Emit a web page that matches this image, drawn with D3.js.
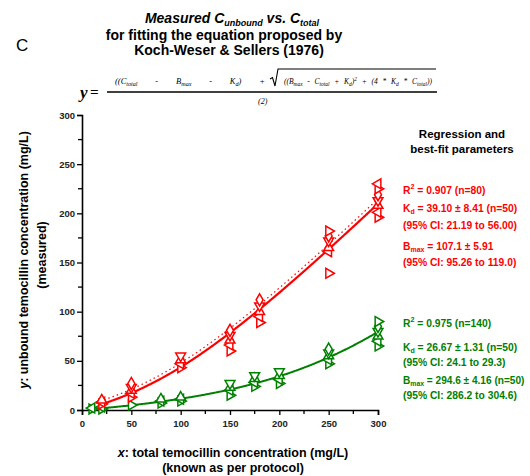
<!DOCTYPE html>
<html>
<head>
<meta charset="utf-8">
<script src="https://cdn.jsdelivr.net/npm/d3@7"></script>
<style>
  html, body { margin: 0; padding: 0; background: #fff; }
  svg { display: block; font-family: "Liberation Sans", Arial, sans-serif; }
</style>
</head>
<body>
<svg id="chart" width="530" height="476"></svg>
<script>
// Total concentration levels (mg/L) and measured unbound replicates
const redX = [20, 50, 100, 150, 180, 250, 300];
const redY = [
  [6, 8, 10],
  [13, 17, 20, 23, 27],
  [43, 47, 51, 55],
  [60, 66, 71, 76, 81],
  [89, 95, 100, 106, 112],
  [139, 161, 165, 172, 177, 182],
  [196, 201, 208, 213, 219, 225, 230]
];
const greenX = [10, 20, 50, 80, 100, 150, 175, 200, 250, 300];
const greenY = [
  [1, 2],
  [1, 3],
  [5],
  [7, 9, 11],
  [9, 11, 13],
  [15, 20, 23, 27],
  [24, 28, 32, 35],
  [27, 31, 35, 39],
  [47, 51, 55, 58, 62],
  [65, 70, 75, 80, 85, 90]
];

// Best-fit parameters (Koch-Weser & Sellers binding model)
const redFit = { Kd: 39.10, Bmax: 107.1, from: 20, to: 300 };
const greenFit = { Kd: 26.67, Bmax: 294.6, from: 10, to: 300 };

const xTicks = [0, 50, 100, 150, 200, 250, 300];
const yTicks = [0, 50, 100, 150, 200, 250, 300];

const redText = [
  "R² = 0.907 (n=80)",
  "Kd = 39.10 ± 8.41 (n=50)",
  "(95% CI: 21.19 to 56.00)",
  "Bmax = 107.1 ± 5.91",
  "(95% CI: 95.26 to 119.0)"
];
const greenText = [
  "R² = 0.975 (n=140)",
  "Kd = 26.67 ± 1.31 (n=50)",
  "(95% CI: 24.1 to 29.3)",
  "Bmax = 294.6 ± 4.16 (n=50)",
  "(95% CI: 286.2 to 304.6)"
];

const RED = "#ff0000", GREEN = "#008000";
const svg = d3.select("#chart");

const x = d3.scaleLinear().domain([0, 300]).range([82, 378]);
const y = d3.scaleLinear().domain([0, 300]).range([410, 115]);

// Model: y = ((C - Bmax - Kd) + sqrt((Bmax - C + Kd)^2 + 4*Kd*C)) / 2
function unbound(c, p) {
  const a = c - p.Bmax - p.Kd;
  return (a + Math.sqrt((p.Bmax - c + p.Kd) ** 2 + 4 * p.Kd * c)) / 2;
}
function fitPoints(p) {
  return d3.range(p.from, p.to + 0.01, 1).map(c => [c, unbound(c, p)]);
}

// Widen the gaps between words so a text spans the given width
function spreadTo(t, width) {
  const node = t.node();
  const w = node.getComputedTextLength();
  const gaps = (node.textContent.match(/ /g) || []).length;
  if (gaps > 0 && width > w) t.attr("word-spacing", (width - w) / gaps);
}
// Shrink a text's font if it would run past the right edge
function fitRight(t, x0, xmax, size) {
  let s = size;
  while (s > 7 && x0 + t.node().getComputedTextLength() > xmax) {
    s -= 0.2;
    t.attr("font-size", s);
  }
}

// Panel letter
svg.append("text").attr("x", 16).attr("y", 51)
  .attr("font-size", 17).text("C");

// Title
const title = svg.append("g").attr("font-weight", "bold").attr("text-anchor", "middle");
const t1 = title.append("text").attr("x", 232).attr("y", 23).attr("font-size", 14).attr("font-style", "italic");
t1.append("tspan").text("Measured C");
t1.append("tspan").attr("font-size", 9).attr("dy", 3).text("unbound");
t1.append("tspan").attr("dy", -3).text(" vs.  C");
t1.append("tspan").attr("font-size", 9).attr("dy", 3).text("total");
title.append("text").attr("x", 224).attr("y", 40).attr("font-size", 14)
  .text("for fitting the equation proposed by");
title.append("text").attr("x", 229).attr("y", 55).attr("font-size", 14)
  .text("Koch-Weser & Sellers (1976)");

// Equation
const eq = svg.append("g").attr("font-family", "'Liberation Serif', 'Times New Roman', serif")
  .attr("font-style", "italic");
eq.append("text").attr("x", 80).attr("y", 98).attr("font-size", 17).attr("font-weight", "bold").text("y");
eq.append("text").attr("x", 90).attr("y", 97).attr("font-size", 15).attr("font-weight", "bold").text("=");
svg.append("line").attr("x1", 107).attr("x2", 437).attr("y1", 92).attr("y2", 92)
  .attr("stroke", "#000").attr("stroke-width", 1.4);

function subText(g, xx, yy, size, parts) {
  const t = g.append("text").attr("x", xx).attr("y", yy).attr("font-size", size);
  parts.forEach(p => {
    const s = t.append("tspan").text(p[0]);
    if (p[1] === "sub") s.attr("font-size", size * 0.72).attr("dy", 1.5);
    else if (p[1] === "sup") s.attr("font-size", size * 0.72).attr("dy", -3);
    else if (p[1] === "back") s.attr("dy", p[2]);
  });
  return t;
}
const numLeft = subText(eq, 115, 84, 8.5, [
  ["((C"], ["total", "sub"], [" - B", "back", -1.5], ["max", "sub"], [" - K", "back", -1.5], ["d", "sub"], [") +", "back", -1.5]
]);
spreadTo(numLeft, 150);
const numRoot = subText(eq, 284, 84, 7.5, [
  ["((B"], ["max", "sub"], [" - C", "back", -1.5], ["total", "sub"], [" + K", "back", -1.5], ["d", "sub"], [")", "back", -1.5],
  ["2", "sup"], [" + (4 * K", "back", 3], ["d", "sub"], [" * C", "back", -1.5], ["total", "sub"], ["))", "back", -1.5]
]);
spreadTo(numRoot, 148);
// Radical sign
svg.append("path")
  .attr("d", "M270,79 L272.5,77.5 L275,86 L278,69 L436,69")
  .attr("fill", "none").attr("stroke", "#000").attr("stroke-width", 1.1);
eq.append("text").attr("x", 258).attr("y", 104).attr("font-size", 8).text("(2)");

// Axes
const yAxis = d3.axisLeft(y).tickValues(yTicks).tickSize(5).tickPadding(2);
const xAxis = d3.axisBottom(x).tickValues(xTicks).tickSize(5).tickPadding(5);

const gy = svg.append("g").attr("transform", "translate(82,0)").call(yAxis);
const gx = svg.append("g").attr("transform", "translate(0,410)").call(xAxis);
[gx, gy].forEach(g => {
  g.select(".domain").attr("stroke-width", 1.6);
  g.selectAll(".tick line").attr("stroke-width", 1.3);
  g.selectAll(".tick text").attr("font-size", 9.5).attr("font-weight", "bold")
    .attr("font-family", "'Liberation Sans', Arial, sans-serif").attr("fill", "#222");
});
// Minor ticks
const minor = d3.range(25, 300, 50);
svg.append("g").selectAll("line").data(minor).join("line")
  .attr("x1", d => x(d)).attr("x2", d => x(d)).attr("y1", 410).attr("y2", 414)
  .attr("stroke", "#000").attr("stroke-width", 1.3);
svg.append("g").selectAll("line").data(minor).join("line")
  .attr("y1", d => y(d)).attr("y2", d => y(d)).attr("x1", 82).attr("x2", 78)
  .attr("stroke", "#000").attr("stroke-width", 1.3);

// Axis titles
const yt = svg.append("text").attr("transform", "translate(28,260) rotate(-90)")
  .attr("text-anchor", "middle").attr("font-size", 12.5).attr("font-weight", "bold");
yt.append("tspan").attr("font-style", "italic").text("y");
yt.append("tspan").text(": unbound temocillin concentration (mg/L)");
svg.append("text").attr("transform", "translate(46,255) rotate(-90)")
  .attr("text-anchor", "middle").attr("font-size", 12.5).attr("font-weight", "bold").text("(measured)");

const xt = svg.append("text").attr("x", 233).attr("y", 457)
  .attr("text-anchor", "middle").attr("font-size", 12.5).attr("font-weight", "bold");
xt.append("tspan").attr("font-style", "italic").text("x");
xt.append("tspan").text(": total temocillin concentration (mg/L)");
svg.append("text").attr("x", 233).attr("y", 472)
  .attr("text-anchor", "middle").attr("font-size", 12.5).attr("font-weight", "bold").text("(known as per protocol)");

// Fit curves
const line = d3.line().x(d => x(d[0])).y(d => y(d[1])).curve(d3.curveMonotoneX);
svg.append("path").datum(fitPoints(redFit)).attr("d", line)
  .attr("fill", "none").attr("stroke", RED).attr("stroke-width", 1.2)
  .attr("stroke-dasharray", "1.5,3").attr("transform", "translate(-2,-3)");
svg.append("path").datum(fitPoints(greenFit)).attr("d", line)
  .attr("fill", "none").attr("stroke", GREEN).attr("stroke-width", 2);
svg.append("path").datum(fitPoints(redFit)).attr("d", line)
  .attr("fill", "none").attr("stroke", RED).attr("stroke-width", 2.2);

// Open markers, one shape per replicate
const shapes = [
  { type: d3.symbolTriangle, rot: 90 },
  { type: d3.symbolTriangle, rot: 270 },
  { type: d3.symbolTriangle, rot: 0 },
  { type: d3.symbolTriangle, rot: 180 },
  { type: d3.symbolDiamond, rot: 0 },
  { type: d3.symbolTriangle, rot: 90 },
  { type: d3.symbolTriangle, rot: 270 }
];
function drawPoints(xs, ys, color) {
  const pts = [];
  xs.forEach((xv, i) => ys[i].forEach((yv, j) => pts.push({ x: xv, y: yv, s: shapes[j % shapes.length] })));
  svg.append("g").selectAll("path").data(pts).join("path")
    .attr("d", d => d3.symbol().type(d.s.type).size(42)())
    .attr("transform", d => `translate(${x(d.x)},${y(d.y)}) rotate(${d.s.rot})`)
    .attr("fill", "#fff").attr("stroke", color).attr("stroke-width", 1.5);
}
drawPoints(greenX, greenY, GREEN);
drawPoints(redX, redY, RED);

// Parameter panel
const panelX = 403, panelMax = 526, panelSize = 10.3;
const panel = svg.append("g").attr("font-weight", "bold");
panel.append("text").attr("x", 462).attr("y", 138).attr("font-size", 11.5)
  .attr("text-anchor", "middle").text("Regression and");
panel.append("text").attr("x", 462).attr("y", 153).attr("font-size", 11.5)
  .attr("text-anchor", "middle").text("best-fit parameters");

function paramBlock(lines, color, ys) {
  lines.forEach((s, i) => {
    const t = panel.append("text").attr("x", panelX).attr("y", ys[i])
      .attr("font-size", panelSize).attr("fill", color);
    if (s.startsWith("R²")) {
      t.append("tspan").text("R");
      t.append("tspan").attr("font-size", "0.7em").attr("dy", -5).text("2");
      t.append("tspan").attr("dy", 5).text(" " + s.slice(2));
    } else if (s.startsWith("Kd")) {
      t.append("tspan").text("K");
      t.append("tspan").attr("font-size", "0.68em").attr("dy", 2).text("d");
      t.append("tspan").attr("dy", -2).text(" " + s.slice(2));
    } else if (s.startsWith("Bmax")) {
      t.append("tspan").text("B");
      t.append("tspan").attr("font-size", "0.68em").attr("dy", 2).text("max");
      t.append("tspan").attr("dy", -2).text(" " + s.slice(4));
    } else {
      t.text(s);
    }
    fitRight(t, panelX, panelMax, panelSize);
  });
}
paramBlock(redText, RED, [194, 212, 229, 250, 266]);
paramBlock(greenText, GREEN, [327, 351, 366, 384, 399]);
</script>
</body>
</html>
